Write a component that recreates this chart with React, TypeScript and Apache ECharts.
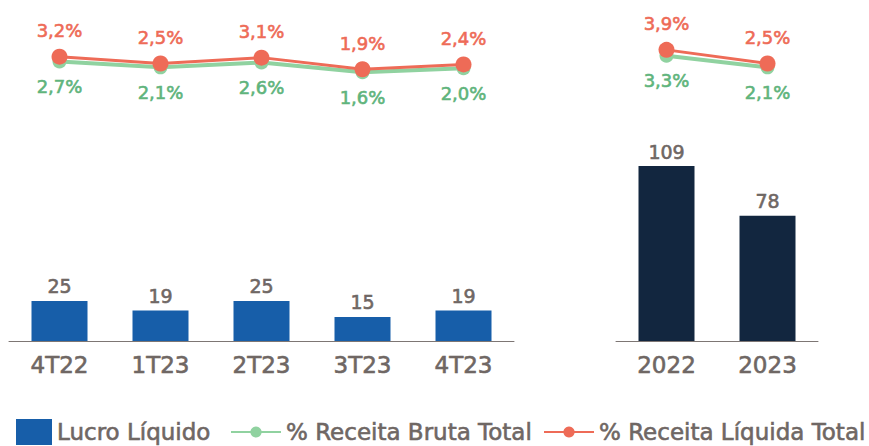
import React, { useEffect, useRef } from "react";
import * as echarts from "echarts";

const quarters = ["4T22", "1T23", "2T23", "3T23", "4T23"];
const years = ["2022", "2023"];
const lucroQuarter = [25, 19, 25, 15, 19];
const lucroYear = [109, 78];
const brutaQuarter = [2.7, 2.1, 2.6, 1.6, 2.0];
const liquidaQuarter = [3.2, 2.5, 3.1, 1.9, 2.4];
const brutaYear = [3.3, 2.1];
const liquidaYear = [3.9, 2.5];

const FONT = "DejaVu Sans";
const GREY = "#6f6764";
const RED = "#ee6b57";
const GREEN_LINE = "#90d2a0";
const GREEN_TEXT = "#5fb47c";
const BLUE = "#175ea9";
const NAVY = "#12263f";
const HEAVY = 0.6;

const pct = (p: any) => Number(p.value).toFixed(1).replace(".", ",") + "%";

export default function App() {
  const ref = useRef<HTMLDivElement>(null);
  useEffect(() => {
    if (!ref.current) return;
    const chart = echarts.init(ref.current, undefined, { renderer: "svg" });
    const lineTop = 39.2;
    const lineH = 48.5;
    const barTop = 148.4;
    const barH = 192.6;
    const grids = [
      { left: 9, width: 505, top: lineTop, height: lineH },
      { left: 9, width: 505, top: barTop, height: barH },
      { left: 616, width: 202, top: lineTop, height: lineH },
      { left: 616, width: 202, top: barTop, height: barH },
    ];
    const hiddenCat = (data: string[], gridIndex: number) => ({
      type: "category",
      data,
      gridIndex,
      boundaryGap: true,
      axisLine: { show: false },
      axisTick: { show: false },
      axisLabel: { show: false },
    });
    const barCat = (data: string[], gridIndex: number) => ({
      type: "category",
      data,
      gridIndex,
      boundaryGap: true,
      axisLine: { show: true, lineStyle: { color: "#7d7674", width: 1 } },
      axisTick: { show: false },
      axisLabel: {
        show: true,
        color: GREY,
        fontFamily: FONT,
        fontSize: 23,
        margin: 12,
        textBorderColor: GREY,
        textBorderWidth: HEAVY,
      },
    });
    const valAxis = (gridIndex: number, max: number) => ({
      type: "value",
      gridIndex,
      min: 0,
      max,
      show: false,
      splitLine: { show: false },
    });
    const barSeries = (data: number[], idx: number, color: string) => ({
      name: "Lucro Líquido",
      type: "bar",
      xAxisIndex: idx,
      yAxisIndex: idx,
      data,
      barWidth: 56,
      itemStyle: { color },
      label: {
        show: true,
        position: "top",
        distance: 5,
        color: GREY,
        fontFamily: FONT,
        fontSize: 19,
        textBorderColor: GREY,
        textBorderWidth: HEAVY,
      },
    });
    const greenSeries = (data: number[], idx: number) => ({
      name: "% Receita Bruta Total",
      type: "line",
      xAxisIndex: idx,
      yAxisIndex: idx,
      data,
      z: 2,
      symbol: "circle",
      symbolSize: 14,
      itemStyle: { color: GREEN_LINE },
      lineStyle: { color: GREEN_LINE, width: 4 },
      label: {
        show: true,
        position: "bottom",
        distance: 9,
        color: GREEN_TEXT,
        fontFamily: FONT,
        fontSize: 18,
        textBorderColor: GREEN_TEXT,
        textBorderWidth: HEAVY,
        formatter: pct,
      },
    });
    const redSeries = (data: number[], idx: number) => ({
      name: "% Receita Líquida Total",
      type: "line",
      xAxisIndex: idx,
      yAxisIndex: idx,
      data,
      z: 3,
      symbol: "circle",
      symbolSize: 16,
      itemStyle: { color: RED },
      lineStyle: { color: RED, width: 3 },
      label: {
        show: true,
        position: "top",
        distance: 9,
        color: RED,
        fontFamily: FONT,
        fontSize: 18,
        textBorderColor: RED,
        textBorderWidth: HEAVY,
        formatter: pct,
      },
    });
    const legendBase = {
      top: 419,
      orient: "horizontal",
      selectedMode: false,
      padding: 0,
      textStyle: {
        color: GREY,
        fontFamily: FONT,
        fontSize: 23,
        lineHeight: 26,
        textBorderColor: GREY,
        textBorderWidth: HEAVY,
      },
    };
    chart.setOption({
      animation: false,
      backgroundColor: "#ffffff",
      grid: grids,
      xAxis: [
        hiddenCat(quarters, 0),
        barCat(quarters, 1),
        hiddenCat(years, 2),
        barCat(years, 3),
      ],
      yAxis: [valAxis(0, 5), valAxis(1, 120), valAxis(2, 5), valAxis(3, 120)],
      legend: [
        {
          ...legendBase,
          left: 16,
          itemWidth: 36,
          itemHeight: 26,
          data: [{ name: "Lucro Líquido", icon: "rect" }],
        },
        {
          ...legendBase,
          left: 230,
          itemWidth: 50,
          itemHeight: 14,
          data: ["% Receita Bruta Total"],
        },
        {
          ...legendBase,
          left: 543,
          itemWidth: 50,
          itemHeight: 14,
          data: ["% Receita Líquida Total"],
        },
      ],
      series: [
        barSeries(lucroQuarter, 1, BLUE),
        greenSeries(brutaQuarter, 0),
        redSeries(liquidaQuarter, 0),
        barSeries(lucroYear, 3, NAVY),
        greenSeries(brutaYear, 2),
        redSeries(liquidaYear, 2),
      ],
    });
    return () => chart.dispose();
  }, []);
  return (
    <div
      ref={ref}
      style={{ position: "absolute", left: 0, top: 0, width: 869, height: 446 }}
    />
  );
}
